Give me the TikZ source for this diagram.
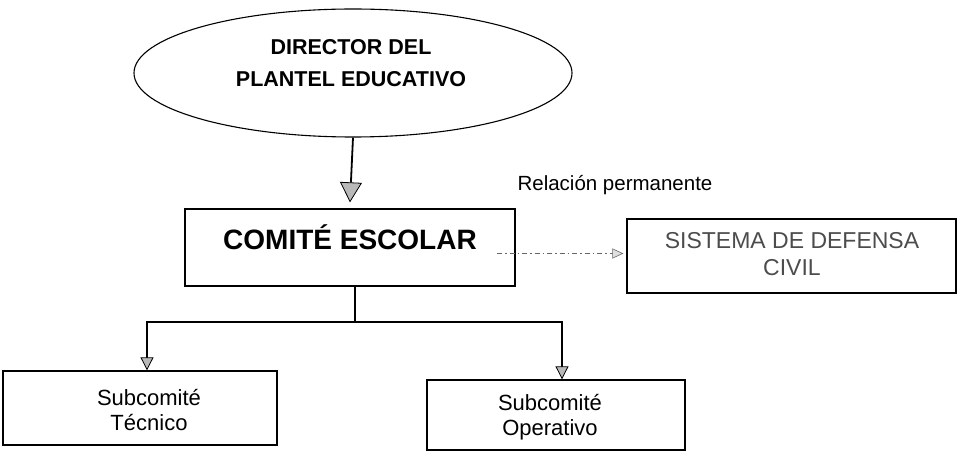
\documentclass[tikz,border=0pt]{standalone}
\usepackage{fontspec}
\setmainfont{Liberation Sans}
\usetikzlibrary{arrows.meta,shapes.geometric}
\tikzset{
  boxnode/.style={draw=black, line width=1.3pt, rectangle, inner sep=0pt},
  txt/.style={align=center, inner sep=0pt},
  bigtip/.style={-{Triangle[width=22pt,length=20pt,fill=gray!55,line width=0.8pt]}},
  smalltip/.style={-{Triangle[width=13pt,length=13pt,fill=gray!55,line width=0.8pt]}},
  dashtip/.style={-{Triangle[width=10pt,length=11pt,fill=gray!25,line width=0.6pt]}},
  conn/.style={line width=1.3pt, draw=black}
}
\begin{document}
\begin{tikzpicture}[x=1pt,y=-1pt]
\useasboundingbox[fill=white] (0,0) rectangle (961,454);

% Director ellipse
\node[draw=black, line width=1.1pt, ellipse, minimum width=438pt, minimum height=128pt, inner sep=0pt] (dir) at (353,73) {};
\node[txt, font=\fontsize{21.5}{32}\selectfont\bfseries] (dirtxt) at (351,63) {DIRECTOR DEL\\PLANTEL EDUCATIVO};

% Comite escolar
\node[boxnode, minimum width=330pt, minimum height=77pt] (comite) at (350,247.5) {};
\node[txt, font=\fontsize{28}{32}\selectfont\bfseries] (comitetxt) at (350,237) {COMITÉ ESCOLAR};

% Sistema de defensa civil
\node[boxnode, minimum width=329pt, minimum height=74pt] (sis) at (791.5,256) {};
\node[txt, text=black!70, font=\fontsize{23}{27}\selectfont] (sistxt) at (792,254.5) {SISTEMA DE DEFENSA\\CIVIL};

% Relacion permanente
\node[txt, font=\fontsize{20.5}{24}\selectfont] (rel) at (615,185) {Relación permanente};

% Subcomites
\node[boxnode, minimum width=274pt, minimum height=74pt] (tec) at (140,408) {};
\node[txt, font=\fontsize{22}{24.5}\selectfont] (tectxt) at (149,410) {Subcomité\\Técnico};
\node[boxnode, minimum width=258pt, minimum height=70pt] (ope) at (556,415) {};
\node[txt, font=\fontsize{22}{24.5}\selectfont] (opetxt) at (550,417) {Subcomité\\Operativo};

% Connectors
\draw[conn, line width=1.8pt, bigtip] (dir.south) -- ([yshift=6pt]comite.north);
\coordinate (junc) at (355,322);
\draw[conn] (comite.south -| junc) -- (junc);
\draw[conn, smalltip] (junc) -| ([xshift=7pt]tec.north);
\draw[conn, smalltip] (junc) -| ([xshift=6pt]ope.north);
\coordinate (dstart) at (497,253.5);
\draw[draw=black!60, line width=1pt, dash pattern=on 5pt off 3pt on 1.5pt off 3pt, dashtip] (dstart) -- ([xshift=-3pt]sis.west |- dstart);
\end{tikzpicture}
\end{document}
